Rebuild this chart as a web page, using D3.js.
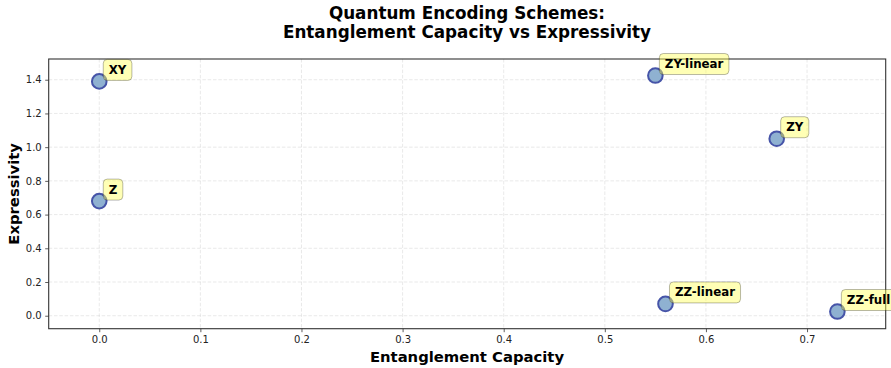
<!DOCTYPE html>
<html><head><meta charset="utf-8">
<script src="https://cdn.jsdelivr.net/npm/d3@7"></script>
<style>body{margin:0;background:#fff;} svg{display:block;font-family:"DejaVu Sans",sans-serif;}</style>
</head><body>
<svg id="c" width="891" height="368"></svg>
<script>
const schemes = ["XY", "Z", "ZY-linear", "ZY", "ZZ-linear", "ZZ-full"];
const entanglement = [0.0, 0.0, 0.55, 0.67, 0.56, 0.73];
const expressivity = [1.39, 0.68, 1.425, 1.05, 0.07, 0.025];
const xTicks = [0.0, 0.1, 0.2, 0.3, 0.4, 0.5, 0.6, 0.7];
const yTicks = [0.0, 0.2, 0.4, 0.6, 0.8, 1.0, 1.2, 1.4];

const svg = d3.select("#c");
const L = 48.7, R = 885.7, T = 59, B = 328.7;
const x = d3.scaleLinear().domain([-0.05, 0.7778]).range([L, R]);
const y = d3.scaleLinear().domain([-0.077, 1.523]).range([B, T]);

// grid
const g = svg.append("g");
g.selectAll(".gx").data(xTicks).enter().append("line")
  .attr("x1", d => x(d)).attr("x2", d => x(d)).attr("y1", T).attr("y2", B)
  .attr("stroke", "#b0b0b0").attr("stroke-opacity", 0.35).attr("stroke-dasharray", "3.5,1.8").attr("stroke-width", 0.8);
g.selectAll(".gy").data(yTicks).enter().append("line")
  .attr("y1", d => y(d)).attr("y2", d => y(d)).attr("x1", L).attr("x2", R)
  .attr("stroke", "#b0b0b0").attr("stroke-opacity", 0.35).attr("stroke-dasharray", "3.5,1.8").attr("stroke-width", 0.8);

// axes
const xAxis = svg.append("g").attr("transform", `translate(0,${B})`)
  .call(d3.axisBottom(x).tickValues(xTicks).tickFormat(d3.format(".1f")).tickSizeOuter(0).tickSize(3.5).tickPadding(3.5));
const yAxis = svg.append("g").attr("transform", `translate(${L},0)`)
  .call(d3.axisLeft(y).tickValues(yTicks).tickFormat(d3.format(".1f")).tickSizeOuter(0).tickSize(3.5).tickPadding(3.5));
[xAxis, yAxis].forEach(a => {
  a.select(".domain").remove();
  a.selectAll("text").attr("font-family", "DejaVu Sans").attr("font-size", 10).attr("fill", "#222");
  a.selectAll("line").attr("stroke", "#333").attr("stroke-width", 0.8);
});

// frame
svg.append("rect").attr("x", L).attr("y", T).attr("width", R - L).attr("height", B - T)
  .attr("fill", "none").attr("stroke", "#333").attr("stroke-width", 1.1);

// points
const data = schemes.map((s, i) => ({s, ex: entanglement[i], ey: expressivity[i]}));
svg.selectAll(".pt").data(data).enter().append("circle")
  .attr("cx", d => x(d.ex)).attr("cy", d => y(d.ey)).attr("r", 7.3)
  .attr("fill", "#8fb1d1").attr("stroke", "#4654a8").attr("stroke-width", 2);

// labels
data.forEach(d => {
  const cx = x(d.ex), cy = y(d.ey);
  const lg = svg.append("g");
  const rect = lg.append("rect");
  const t = lg.append("text").attr("x", cx + 9.5).attr("y", cy - 7.5)
    .attr("font-size", 11.8).attr("font-weight", "bold").attr("fill", "#000").text(d.s);
  const w = t.node().getComputedTextLength();
  rect.attr("x", cx + 4).attr("y", cy - 22).attr("width", w + 11).attr("height", 21)
    .attr("rx", 4).attr("ry", 4)
    .attr("fill", "#ffff5a").attr("fill-opacity", 0.45)
    .attr("stroke", "#000").attr("stroke-opacity", 0.28).attr("stroke-width", 1);
});

// titles
svg.append("text").attr("x", 467).attr("y", 18.5).attr("text-anchor", "middle")
  .attr("font-size", 16.8).attr("font-weight", "bold").text("Quantum Encoding Schemes:");
svg.append("text").attr("x", 467).attr("y", 38).attr("text-anchor", "middle")
  .attr("font-size", 16.8).attr("font-weight", "bold").text("Entanglement Capacity vs Expressivity");
svg.append("text").attr("x", 467).attr("y", 362).attr("text-anchor", "middle")
  .attr("font-size", 14.8).attr("font-weight", "bold").text("Entanglement Capacity");
svg.append("text").attr("transform", `translate(19,${(T + B) / 2}) rotate(-90)`).attr("text-anchor", "middle")
  .attr("font-size", 14.8).attr("font-weight", "bold").text("Expressivity");
</script>
</body></html>
